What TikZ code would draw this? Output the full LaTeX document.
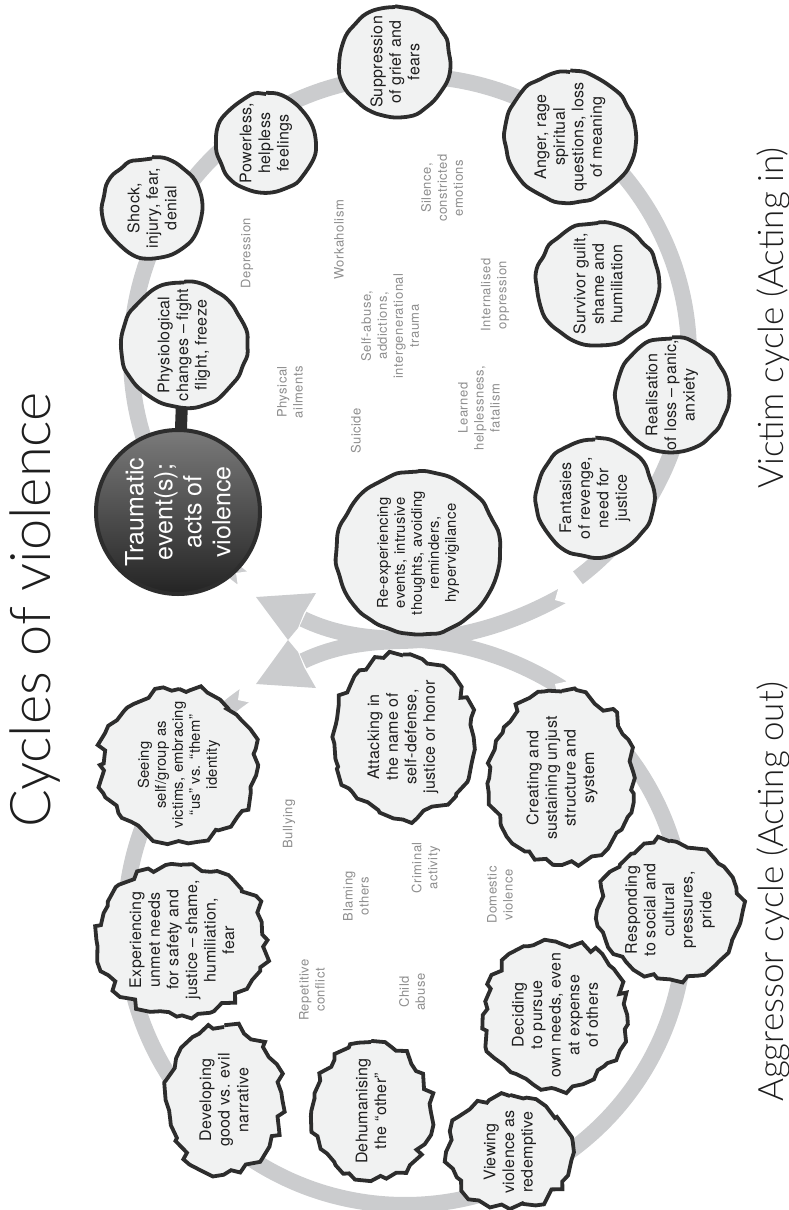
\documentclass[tikz,border=0pt]{standalone}
\usepackage{fontspec}
\setmainfont{TeX Gyre Heros}
\newfontfamily\lblfamily[LetterSpace=4.0]{TeX Gyre Heros}
\newfontfamily\nodefamily[LetterSpace=2.0]{TeX Gyre Heros}
\IfFontExistsTF{Lato Light}{\newfontfamily\titlefamily{Lato Light}}{\newfontfamily\titlefamily{TeX Gyre Heros}}
\usetikzlibrary{shapes.geometric,decorations.pathmorphing}
\pgfdeclarelayer{bg}
\pgfsetlayers{bg,main}
\definecolor{bandc}{HTML}{CBCCCE}
\definecolor{nfill}{HTML}{F1F2F2}
\definecolor{outl}{HTML}{2D2D2D}
\definecolor{lblc}{HTML}{8E8E8E}
\definecolor{txt}{HTML}{1E1E1E}
\newcommand\nodefont{\nodefamily\fontsize{16}{18.6}\selectfont}
\newcommand\smallnodefont{\nodefamily\fontsize{14.8}{17}\selectfont}
\newcommand\graylblfont{\lblfamily\fontsize{13}{16}\selectfont}
\newcommand\traumafont{\fontsize{25}{29}\selectfont}
\begin{document}
\begin{tikzpicture}[x=1pt,y=-1pt,
  vic/.style={circle, draw=outl, fill=nfill, line width=3.8pt, inner sep=-40pt,
    minimum size=#1, align=center, text=txt, font=\nodefont, rotate=90,
    decorate, decoration={random steps, segment length=11pt, amplitude=1.5pt},
    rounded corners=4pt, line join=round},
  agg/.style 2 args={ellipse, draw=outl, fill=nfill, line width=3.8pt, inner sep=-40pt,
    minimum width=#1, minimum height=#2, align=center, text=txt, font=\nodefont, rotate=90,
    decorate, decoration={random steps, segment length=9pt, amplitude=4.8pt},
    line join=miter, miter limit=4},
  lbl/.style={rotate=90, align=center, text=lblc, font=\graylblfont},
  bandline/.style={draw=bandc, line width=16pt},
  headfill/.style={fill=bandc},
  notch/.style={fill=white},
]
\pgfmathsetseed{7}
\useasboundingbox (0,0) rectangle (789,1210);

% titles
\node[rotate=90, anchor=base, font=\titlefamily\fontsize{56}{60}\selectfont, text=txt] (title) at (50,610) {Cycles of violence};
\node[rotate=90, anchor=base, font=\titlefamily\fontsize{35}{40}\selectfont, text=txt] (victitle) at (783,318) {Victim cycle (Acting in)};
\node[rotate=90, anchor=base, font=\titlefamily\fontsize{35}{40}\selectfont, text=txt] (aggtitle) at (783,892) {Aggressor cycle (Acting out)};

% victim cycle nodes
\node[vic=125] (phys) at (184,345) {Physiological\\changes \textendash{} fight\\flight, freeze};
\node[vic=99] (shock) at (152,208) {Shock,\\injury, fear,\\denial};
\node[vic=98] (power) at (266,143) {Powerless,\\helpless\\feelings};
\node[vic=110] (supp) at (395,62) {Suppression\\of grief and\\fears};
\node[vic=130] (anger) at (570,137) {Anger, rage\\spiritual\\questions, loss\\of meaning};
\node[vic=122] (surv) at (598,284) {Survivor guilt,\\shame and\\humiliation};
\node[vic=113] (real) at (672,395) {Realisation\\of loss \textendash{} panic,\\anxiety};
\node[vic=117] (fant) at (595,498) {Fantasies\\of revenge,\\need for\\justice};
\node[vic=163, font=\smallnodefont] (reexp) at (418,553) {Re-experiencing\\events, intrusive\\thoughts, avoiding\\reminders,\\hypervigilance};

\node[circle, draw=outl, line width=4pt, top color=black!52, bottom color=black!86,
  minimum size=164, inner sep=-40pt, text=white, font=\traumafont, align=center, rotate=90]
  (trauma) at (178,512) {Traumatic\\event(s);\\acts of\\violence};

% aggressor cycle nodes
\node[agg={152}{158}, font=\smallnodefont] (seeing) at (179,765) {Seeing\\self/group as\\victims, embracing\\“us” vs. “them”\\identity};
\node[agg={150}{170}] (exper) at (182,940) {Experiencing\\unmet needs\\for safety and\\justice \textendash{} shame,\\humiliation,\\fear};
\node[agg={146}{115}] (devel) at (224,1100) {Developing\\good vs. evil\\narrative};
\node[agg={138}{118}] (dehum) at (371,1111) {Dehumanising\\the “other”};
\node[agg={112}{125}] (view) at (510,1152) {Viewing\\violence as\\redemptive};
\node[agg={147}{144}] (decid) at (555,1015) {Deciding\\to pursue\\own needs, even\\at expense\\of others};
\node[agg={137}{144}] (resp) at (670,910) {Responding\\to social and\\cultural\\pressures,\\pride};
\node[agg={173}{145}] (creat) at (562,778) {Creating and\\sustaining unjust\\structure and\\system};
\node[agg={163}{140}] (attack) at (403,737) {Attacking in\\the name of\\self-defense,\\justice or honor};

% grey labels
\node[lbl] (depr) at (247,253) {Depression};
\node[lbl] (work) at (339,240) {Workaholism};
\node[lbl] (sil) at (442,188) {Silence,\\constricted\\emotions};
\node[lbl] (physail) at (290,392) {Physical\\ailments};
\node[lbl] (selfab) at (390,326) {Self-abuse,\\addictions,\\intergenerational\\trauma};
\node[lbl] (intop) at (495,295) {Internalised\\oppression};
\node[lbl] (suic) at (356,431) {Suicide};
\node[lbl] (learn) at (479,408) {Learned\\helplessness,\\fatalism};
\node[lbl] (bull) at (289,824) {Bullying};
\node[lbl] (blam) at (356,896) {Blaming\\others};
\node[lbl] (crim) at (426,868) {Criminal\\activity};
\node[lbl] (dom) at (500,895) {Domestic\\violence};
\node[lbl] (rep) at (312,990) {Repetitive\\conflict};
\node[lbl] (child) at (412,992) {Child\\abuse};

% connector coordinates
\coordinate (atail) at (562,596);
\coordinate (ahead) at (303,661);
\coordinate (btail) at (562,688);
\coordinate (bhead) at (303,619);

\begin{pgfonlayer}{bg}
  % victim circle
  \draw[bandline] plot[domain=127:413, samples=150, smooth] ({410+279*cos(\x)},{355+279*sin(\x)});
  % aggressor circle
  \draw[bandline] plot[domain=-54:235, samples=150, smooth] ({405+280*cos(\x)},{925+280*sin(\x)});
  % crossing shafts
  \draw[bandline] (atail) .. controls (505,628) and (450,640) .. (400,641)
                          .. controls (360,642) and (330,648) .. (ahead);
  \draw[bandline] (btail) .. controls (505,652) and (450,640) .. (400,639)
                          .. controls (360,638) and (330,632) .. (bhead);
  % arrow heads
  \fill[headfill] (256,597) -- (316,593) -- (304,613) -- (298,628) -- (288,640) -- cycle;
  \fill[headfill] (256,684) -- (316,688) -- (304,667) -- (298,652) -- (288,640) -- cycle;
  % swallow-tail notches at the tails
  \fill[notch] (555,600) -- (569,604) -- (559,586) -- cycle;
  \fill[notch] (555,684) -- (569,681) -- (558,698) -- cycle;
  \fill[notch] (236,573) -- (250,571) -- (238,587) -- cycle;
  \fill[notch] (238,700) -- (252,703) -- (240,686) -- cycle;
  % bar joining physiological changes and the traumatic event
  \draw[outl, line width=12pt] (phys.center) -- (trauma.center);
\end{pgfonlayer}
\end{tikzpicture}
\end{document}
